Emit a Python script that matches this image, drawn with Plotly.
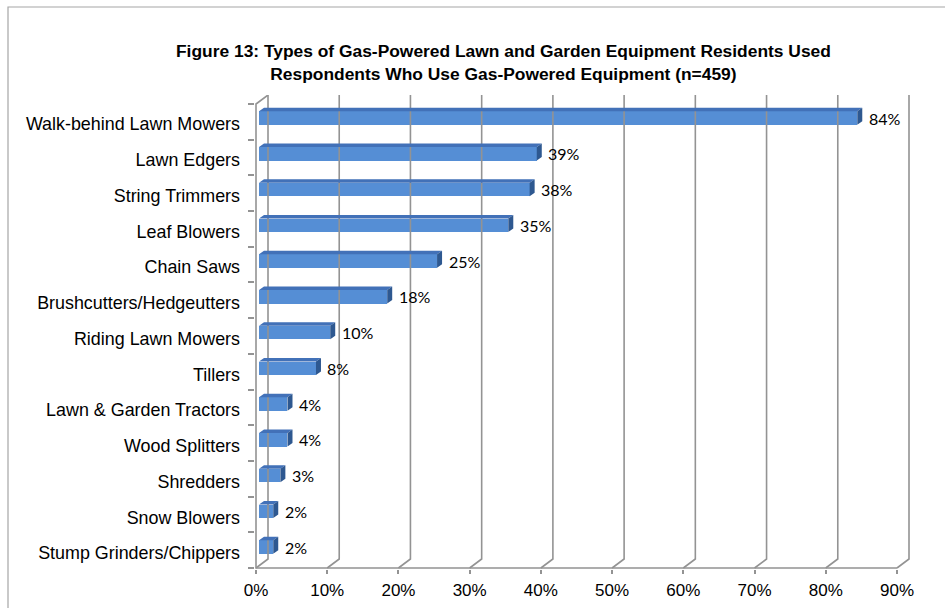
import plotly.graph_objects as go

# Survey results: share of respondents using each type of gas-powered equipment
categories = [
    "Walk-behind Lawn Mowers", "Lawn Edgers", "String Trimmers", "Leaf Blowers",
    "Chain Saws", "Brushcutters/Hedgeutters", "Riding Lawn Mowers", "Tillers",
    "Lawn & Garden Tractors", "Wood Splitters", "Shredders", "Snow Blowers",
    "Stump Grinders/Chippers",
]
values = [84, 39, 38, 35, 25, 18, 10, 8, 4, 4, 3, 2, 2]
x_ticks = [0, 10, 20, 30, 40, 50, 60, 70, 80, 90]
x_tick_text = [f"{t}%" for t in x_ticks]

title_text = ("<b>Figure 13: Types of Gas-Powered Lawn and Garden Equipment Residents Used</b><br>"
              "<b>Respondents Who Use Gas-Powered Equipment (n=459)</b>")

# ---- geometry of the pseudo-3D frame (in axis units) ----
W, H = 945, 608
ML, MR, MT, MB = 255, 34, 95, 39
X0_PX = 256.0            # pixel of 0 %
PX_PER_X = 641.0 / 90.0  # pixels per percent
PX_PER_Y = 35.75         # pixels per category step
FLOOR = -0.587           # front floor line
PLOT_H = H - MB - MT
x_min = (ML - X0_PX) / PX_PER_X
x_max = (W - MR - X0_PX) / PX_PER_X
y_bot = FLOOR - 1.0 / PX_PER_Y
y_top = y_bot + PLOT_H / PX_PER_Y

GDX = 12 / PX_PER_X      # depth offset of back wall
GDY = 9 / PX_PER_Y
WALL_TOP = FLOOR + (568 - 104) / PX_PER_Y
BACK_TOP = FLOOR + (568 - 95) / PX_PER_Y

BAR_OFF = 3 / PX_PER_X   # bars sit slightly inside the front plane
BAR_H = 13.5 / PX_PER_Y
BDX = 5 / PX_PER_X       # bar bevel depth
BDY = 3.5 / PX_PER_Y
LABEL_SHIFT = 6 / PX_PER_Y

n = len(categories)
ypos = [n - 1 - i for i in range(n)]
wall_ticks = [FLOOR + k * (WALL_TOP - FLOOR) / n for k in range(n + 1)]

grid_col = "#939393"
face_col = "#558ED5"
top_col = "#4271B8"
side_col = "#2E5890"

fig = go.Figure()

# back-wall gridlines and floor diagonals
gx, gy = [], []
for t in x_ticks:
    gx += [t, t + GDX, t + GDX, None]
    gy += [FLOOR, FLOOR + GDY, y_top + 1, None]
fig.add_trace(go.Scatter(x=gx, y=gy, mode="lines", line=dict(color=grid_col, width=1.6),
                         hoverinfo="skip", showlegend=False))

# front floor edge and left wall edge
fig.add_trace(go.Scatter(
    x=[x_ticks[0] + GDX, x_ticks[0], x_ticks[0], x_ticks[-1]],
    y=[BACK_TOP, WALL_TOP, FLOOR, FLOOR],
    mode="lines", line=dict(color=grid_col, width=1.6), hoverinfo="skip", showlegend=False))

# bar front faces
fig.add_trace(go.Bar(
    x=values, y=ypos, base=BAR_OFF, orientation="h", width=BAR_H,
    marker=dict(color=face_col, line=dict(width=0)),
    hoverinfo="skip", showlegend=False))

# bar top bevels and right-end sides
tx, ty, sx, sy = [], [], [], []
for v, y in zip(values, ypos):
    x0, x1 = BAR_OFF, BAR_OFF + v
    top, bot = y + BAR_H / 2, y - BAR_H / 2
    tx += [x0, x1, x1 + BDX, x0 + BDX, x0, None]
    ty += [top, top, top + BDY, top + BDY, top, None]
    sx += [x1, x1 + BDX, x1 + BDX, x1, x1, None]
    sy += [bot, bot + BDY, top + BDY, top, bot, None]
fig.add_trace(go.Scatter(x=tx, y=ty, mode="lines", fill="toself", fillcolor=top_col,
                         line=dict(width=0, color=top_col), hoverinfo="skip", showlegend=False))
fig.add_trace(go.Scatter(x=sx, y=sy, mode="lines", fill="toself", fillcolor=side_col,
                         line=dict(width=0, color=side_col), hoverinfo="skip", showlegend=False))

# value labels
for v, y in zip(values, ypos):
    fig.add_annotation(x=v + 1.75, y=y, text=f"{v}%", showarrow=False, xanchor="left",
                       yanchor="middle", font=dict(family="Lato", size=16, color="#000000"))

# title
fig.add_annotation(x=(503.5 - ML) / (W - ML - MR), xref="paper", y=(H - MB - 62) / PLOT_H,
                   yref="paper", text=title_text, showarrow=False, xanchor="center",
                   yanchor="middle", font=dict(family="Liberation Sans", size=17.4, color="#000000"))

# outer chart border
fig.add_shape(type="rect", xref="paper", yref="paper",
              x0=(8 - ML) / (W - ML - MR), x1=(980 - ML) / (W - ML - MR),
              y0=(H - MB - 640) / PLOT_H, y1=(H - MB - 7) / PLOT_H,
              line=dict(color="#A6A6A6", width=1.2), layer="below")

# dummy trace to activate the tick-only overlay axis
fig.add_trace(go.Scatter(x=[None], y=[None], yaxis="y2", showlegend=False, hoverinfo="skip"))

fig.update_layout(
    width=W, height=H, autosize=False,
    margin=dict(l=ML, r=MR, t=MT, b=MB, pad=0, autoexpand=False),
    paper_bgcolor="white", plot_bgcolor="rgba(0,0,0,0)",
    bargap=0,
    xaxis=dict(range=[x_min, x_max], tickvals=x_ticks, ticktext=x_tick_text,
               showgrid=False, zeroline=False, showline=False, automargin=False,
               ticks="outside", ticklen=4, tickcolor=grid_col, tickwidth=1.6,
               ticklabelstandoff=2,
               tickfont=dict(family="Liberation Sans", size=17, color="#000000")),
    yaxis=dict(range=[y_bot, y_top], tickvals=[p - LABEL_SHIFT for p in ypos], ticktext=categories,
               showgrid=False, zeroline=False, showline=False, ticks="", automargin=False,
               ticklabelstandoff=14,
               tickfont=dict(family="Liberation Sans", size=17.9, color="#000000")),
    yaxis2=dict(range=[y_bot, y_top], overlaying="y", side="left", automargin=False,
                tickvals=wall_ticks,
                showticklabels=False, showgrid=False, zeroline=False, showline=False,
                ticks="outside", ticklen=6, tickcolor=grid_col, tickwidth=1.6),
)

fig.write_html("out.html")
